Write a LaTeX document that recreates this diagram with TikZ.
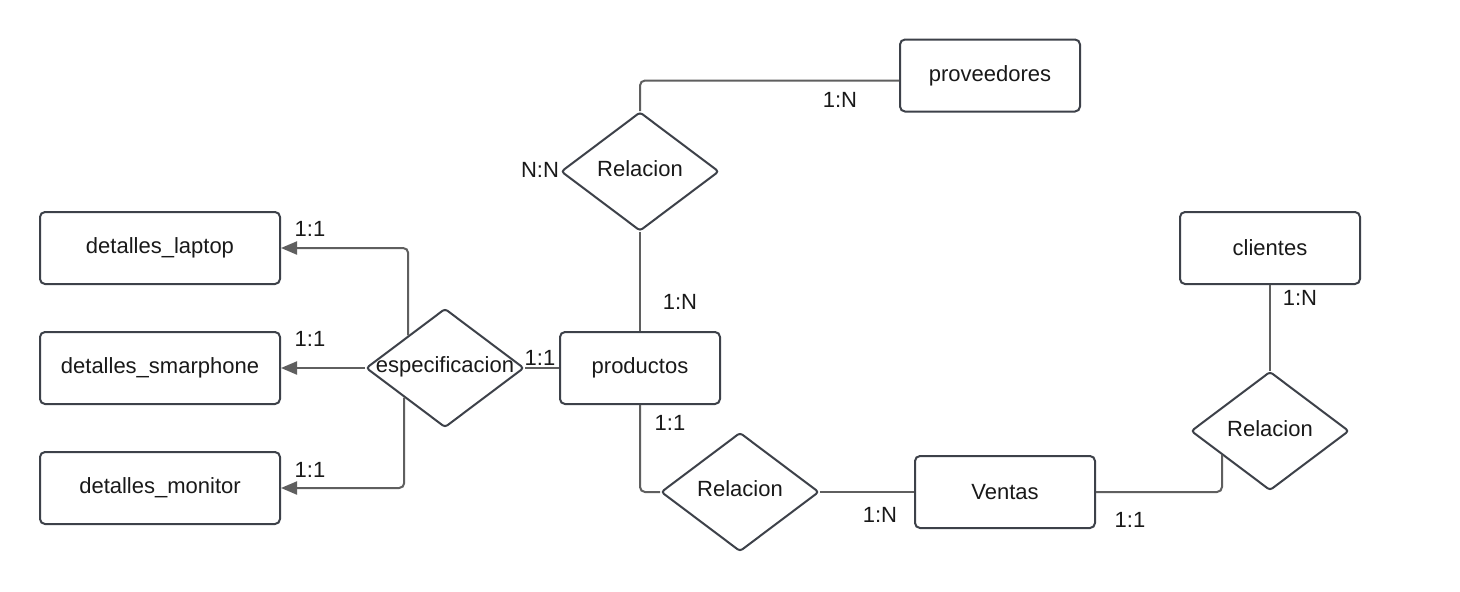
\documentclass[tikz,border=0pt]{standalone}
\usepackage{fontspec}
\setmainfont{Liberation Sans}
\usetikzlibrary{shapes.geometric,arrows.meta,calc}
\definecolor{boxline}{HTML}{3D4149}
\definecolor{conncol}{HTML}{5F5F5F}
\begin{document}
\begin{tikzpicture}[x=1pt,y=-1pt,
  every node/.style={font=\fontsize{22}{26}\selectfont, text=black!90},
  entity/.style={draw=boxline, line width=2pt, rounded corners=5pt, fill=white,
    minimum width=180pt, minimum height=72pt, inner sep=0pt},
  rel/.style={diamond, draw=boxline, line width=2pt, rounded corners=3pt,
    minimum width=158pt, minimum height=119pt, inner sep=0pt},
  link/.style={draw=conncol, line width=2pt, rounded corners=5pt},
  arr/.style={-{Triangle[length=16pt,width=13pt]}},
  card/.style={inner sep=0pt}
]
\useasboundingbox[fill=white] (0,0) rectangle (1460,592);

% entities
\node[entity] (prov) at (990,75.5) {proveedores};
\node[entity, minimum width=240pt] (lap) at (160,248) {detalles\_laptop};
\node[entity, minimum width=240pt] (sma) at (160,368) {detalles\_smarphone};
\node[entity, minimum width=240pt] (mon) at (160,488) {detalles\_monitor};
\node[entity, minimum width=160pt] (prod) at (640,368) {productos};
\node[entity] (cli) at (1270,248) {clientes};
\node[entity] (ven) at (1005,492) {Ventas};

% relations
\node[rel, label={[yshift=3pt]center:Relacion}] (rt) at (640,171.5) {};
\node[rel, label={[yshift=1pt]center:especificacion}] (esp) at (445,368) {};
\node[rel, label={[yshift=3pt]center:Relacion}] (rb) at (740,492) {};
\node[rel, label={[yshift=2pt]center:Relacion}] (rr) at (1270,431) {};

% connectors
\draw[link] (rt.north) |- ([yshift=-5pt]prov.west);
\draw[link] (rt.south) -- (prod.north);
\draw[link,arr] ($(esp.west)!0.54!(esp.north)$) |- (lap.east);
\draw[link,arr] (esp.west) -- (sma.east);
\draw[link,arr] ($(esp.west)!0.49!(esp.south)$) |- (mon.east);
\draw[link] (esp.east) -- (prod.west);
\draw[link] (prod.south) |- (rb.west);
\draw[link] (rb.east) -- (ven.west);
\draw[link] (ven.east) -| ($(rr.west)!0.4!(rr.south)$);
\draw[link] (cli.south) -- (cli.south |- rr.north);

% cardinalities
\node[card] (c1) at (840,100) {1:N};
\node[card] (c2) at (540,170) {N:N};
\node[card] (c3) at (680,302) {1:N};
\node[card] (c4) at (310,229) {1:1};
\node[card] (c5) at (310,339) {1:1};
\node[card] (c6) at (310,470) {1:1};
\node[card] (c7) at (540,358) {1:1};
\node[card] (c8) at (670,423) {1:1};
\node[card] (c9) at (880,515) {1:N};
\node[card] (c10) at (1130,520) {1:1};
\node[card] (c11) at (1300,298) {1:N};
\end{tikzpicture}
\end{document}
